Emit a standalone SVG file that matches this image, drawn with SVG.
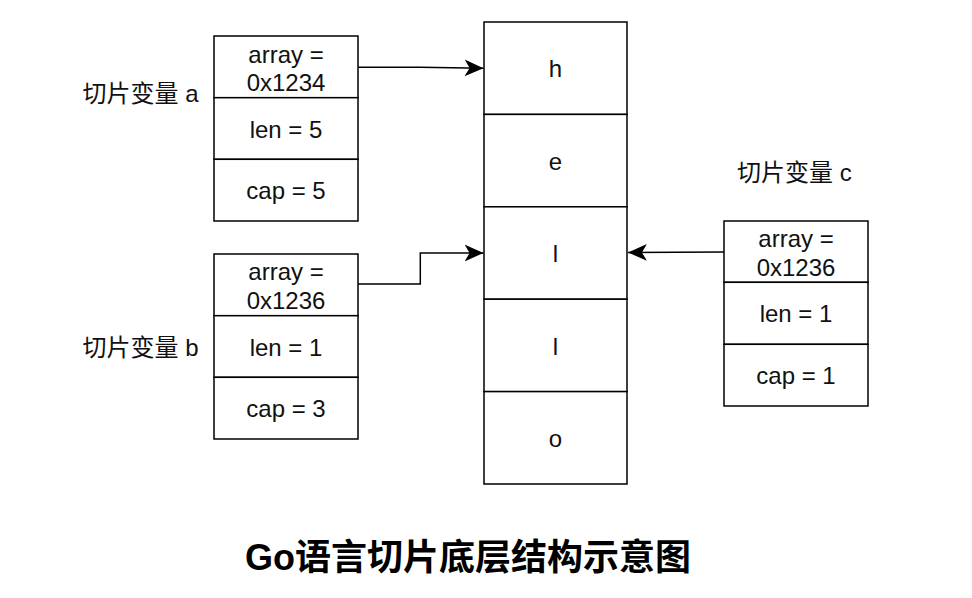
<svg xmlns="http://www.w3.org/2000/svg" width="972" height="598" viewBox="0 0 972 598">
<style>
  .box { fill: #ffffff; stroke: #000000; stroke-width: 1.5; }
  .t { font-family: "Liberation Sans", "Noto Sans CJK SC", sans-serif; font-size: 24px; fill: #111111; text-anchor: middle; }
  .lbl { font-family: "Liberation Sans", "Noto Sans CJK SC", sans-serif; font-size: 24px; fill: #111111; }
  .title { font-family: "Liberation Sans", "Noto Sans CJK SC", sans-serif; font-size: 36px; font-weight: bold; fill: #000000; text-anchor: middle; }
  .edge { fill: none; stroke: #000000; stroke-width: 1.5; }
</style>
<defs>
  <marker id="arrow" markerUnits="userSpaceOnUse" markerWidth="20" markerHeight="20" viewBox="0 0 18 18" refX="17" refY="9" orient="auto">
    <path d="M0,1.5 L17,9 L0,16.5 L4.5,9 Z" fill="#000000"/>
  </marker>
</defs>
<rect width="972" height="598" fill="#ffffff"/>

<g id="array">
  <rect class="box" x="484" y="22" width="143" height="92.4"/>
  <rect class="box" x="484" y="114.4" width="143" height="92.4"/>
  <rect class="box" x="484" y="206.8" width="143" height="92.4"/>
  <rect class="box" x="484" y="299.2" width="143" height="92.4"/>
  <rect class="box" x="484" y="391.6" width="143" height="92.4"/>
  <text class="t" x="555.5" y="77">h</text>
  <text class="t" x="555.5" y="169.5">e</text>
  <text class="t" x="555.5" y="262">l</text>
  <text class="t" x="555.5" y="354.5">l</text>
  <text class="t" x="555.5" y="447">o</text>
</g>

<g id="slice-a">
  <rect class="box" x="214" y="36" width="144" height="61.7"/>
  <rect class="box" x="214" y="97.7" width="144" height="61.6"/>
  <rect class="box" x="214" y="159.3" width="144" height="61.7"/>
  <text class="t" x="286" y="62.5">array =</text>
  <text class="t" x="286" y="91">0x1234</text>
  <text class="t" x="286" y="137.5">len = 5</text>
  <text class="t" x="286" y="199">cap = 5</text>
</g>
<g id="label-a"><text class="lbl" x="82.5" y="102">切片变量 a</text></g>

<g id="slice-b">
  <rect class="box" x="214" y="254" width="144" height="61.7"/>
  <rect class="box" x="214" y="315.7" width="144" height="61.6"/>
  <rect class="box" x="214" y="377.3" width="144" height="61.7"/>
  <text class="t" x="286" y="280">array =</text>
  <text class="t" x="286" y="308.5">0x1236</text>
  <text class="t" x="286" y="355.5">len = 1</text>
  <text class="t" x="286" y="417">cap = 3</text>
</g>
<g id="label-b"><text class="lbl" x="82.5" y="356">切片变量 b</text></g>

<g id="slice-c">
  <rect class="box" x="724" y="221" width="144" height="61.3"/>
  <rect class="box" x="724" y="282.3" width="144" height="62"/>
  <rect class="box" x="724" y="344.3" width="144" height="61.7"/>
  <text class="t" x="796" y="247">array =</text>
  <text class="t" x="796" y="275.5">0x1236</text>
  <text class="t" x="796" y="322">len = 1</text>
  <text class="t" x="796" y="384">cap = 1</text>
</g>
<g id="label-c"><text class="lbl" x="737" y="181">切片变量 c</text></g>

<g id="connectors">
  <path class="edge" d="M358,67.3 L420,67.3 L483.5,68.2" marker-end="url(#arrow)"/>
  <path class="edge" d="M358,284 L420.3,284 L420.3,253 L483.5,253" marker-end="url(#arrow)"/>
  <path class="edge" d="M724,252 L628,252.5" marker-end="url(#arrow)"/>
</g>

<g id="title"><text class="title" x="468" y="570">Go语言切片底层结构示意图</text></g>
</svg>
